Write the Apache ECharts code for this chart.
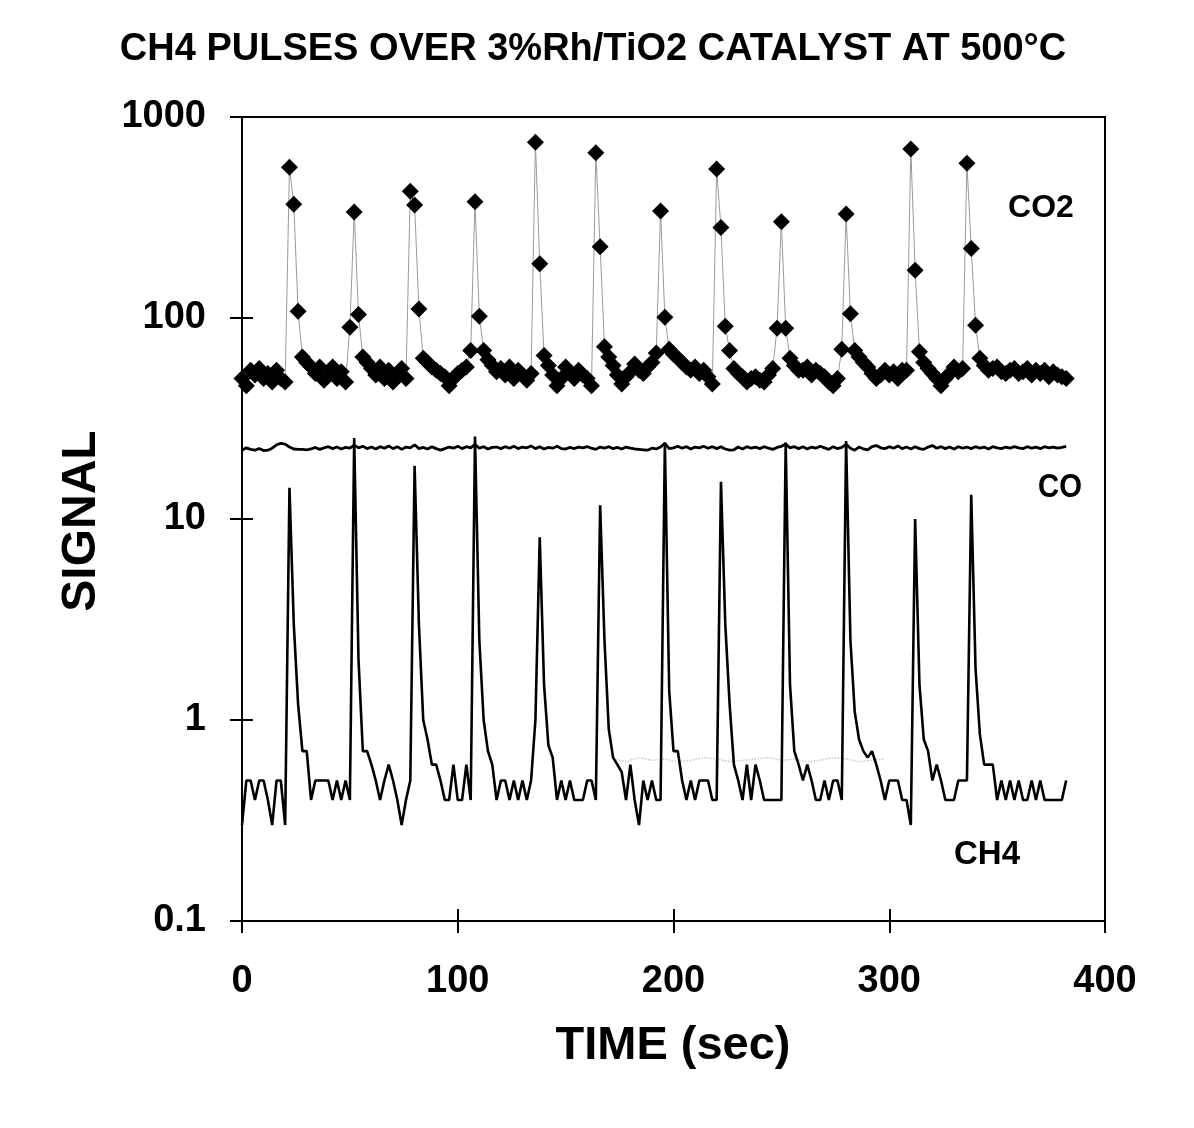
<!DOCTYPE html>
<html>
<head>
<meta charset="utf-8">
<script src="https://cdn.jsdelivr.net/npm/echarts@6/dist/echarts.min.js"></script>
<style>
html,body{margin:0;padding:0;background:#fff;}
#chart{width:1194px;height:1128px;}
</style>
</head>
<body>
<div id="chart"></div>
<script>
// ---- DATA ----
const timeSec = [
  0,2,4,6,8,10,12,14,16,18,
  20,22,24,26,28,30,32,34,36,38,
  40,42,44,46,48,50,52,54,56,58,
  60,62,64,66,68,70,72,74,76,78,
  80,82,84,86,88,90,92,94,96,98,
  100,102,104,106,108,110,112,114,116,118,
  120,122,124,126,128,130,132,134,136,138,
  140,142,144,146,148,150,152,154,156,158,
  160,162,164,166,168,170,172,174,176,178,
  180,182,184,186,188,190,192,194,196,198,
  200,202,204,206,208,210,212,214,216,218,
  220,222,224,226,228,230,232,234,236,238,
  240,242,244,246,248,250,252,254,256,258,
  260,262,264,266,268,270,272,274,276,278,
  280,282,284,286,288,290,292,294,296,298,
  300,302,304,306,308,310,312,314,316,318,
  320,322,324,326,328,330,332,334,336,338,
  340,342,344,346,348,350,352,354,356,358,
  360,362,364,366,368,370,372,374,376,378,
  380,382
];
const co2Signal = [
  50,46,55,52,56,50,53,48,55,50,
  48,562,368,108,64,60,57,53,57,49,
  52,57,50,54,48,90,337,104,64,60,
  56,52,57,50,55,48,53,56,50,427,
  365,111,63,60,57,55,53,51,46,50,
  53,55,57,69,379,102,69,62,58,54,
  56,52,57,50,55,52,49,53,748,186,
  65,58,52,46,50,57,53,50,55,52,
  50,46,664,226,72,64,58,52,47,51,
  54,59,55,53,57,60,67,341,101,70,
  66,63,60,57,55,57,53,55,51,47,
  551,282,91,69,56,53,51,48,50,51,
  49,48,52,56,89,301,89,63,58,55,
  55,57,52,55,53,51,48,46,50,70,
  329,105,69,64,60,57,53,50,52,55,
  52,54,50,55,55,693,173,68,60,56,
  53,50,46,50,53,57,54,56,589,222,
  92,63,58,55,56,57,54,53,55,56,
  53,54,56,52,55,53,55,51,54,52,
  51,50
];
const coSignal = [
  22.0,22.6,22.2,22.0,22.4,21.9,22.0,22.5,23.4,23.8,
  23.6,22.8,22.3,22.2,22.2,22.1,22.3,22.7,22.2,22.6,
  22.9,22.4,22.8,22.3,22.7,22.5,23.3,22.6,23.0,22.4,
  22.8,22.3,22.9,22.5,23.1,22.4,22.9,22.2,22.8,22.6,
  23.4,22.4,22.7,22.3,22.9,22.4,22.0,22.4,22.8,22.5,
  23.0,22.4,22.9,22.6,23.5,22.5,22.9,22.3,22.7,22.8,
  22.4,22.9,22.5,23.0,22.4,22.8,22.6,23.1,22.4,22.9,
  22.3,22.7,22.5,23.0,22.4,22.3,22.7,22.4,22.8,22.6,
  22.9,22.5,22.2,22.8,22.5,22.9,22.4,22.7,22.3,22.8,
  22.5,22.3,22.2,22.1,22.0,22.5,22.3,22.8,23.8,22.4,
  22.6,23.0,22.5,22.9,22.3,22.8,22.6,23.0,22.5,22.9,
  22.4,22.9,22.3,22.0,22.1,22.8,22.3,22.9,22.5,22.8,
  22.4,22.9,22.5,22.2,22.7,23.0,23.6,22.6,22.9,22.4,
  22.9,22.3,22.8,22.5,23.0,22.6,22.2,22.9,22.4,22.7,
  23.5,22.5,22.0,22.8,22.3,22.1,22.9,23.2,22.6,22.4,
  22.9,22.5,23.1,22.4,22.8,22.3,22.9,22.4,22.2,22.8,
  23.2,22.5,22.9,22.4,22.8,22.3,22.9,22.5,22.8,22.4,
  22.9,22.5,22.8,22.3,22.9,22.6,22.4,22.8,22.5,22.9,
  22.6,22.4,22.9,22.5,22.8,22.4,22.9,22.6,22.8,22.5,
  22.7,23.0
];
const ch4Signal = [
  0.3,0.5,0.5,0.4,0.5,0.5,0.4,0.3,0.5,0.5,
  0.3,14.3,3.0,1.2,0.7,0.7,0.4,0.5,0.5,0.5,
  0.5,0.4,0.5,0.4,0.5,0.4,25.3,2.0,0.7,0.7,
  0.6,0.5,0.4,0.5,0.6,0.5,0.4,0.3,0.4,0.5,
  18.4,3.0,1.0,0.8,0.6,0.6,0.5,0.4,0.4,0.6,
  0.4,0.4,0.6,0.4,25.7,2.5,1.0,0.7,0.6,0.4,
  0.5,0.5,0.4,0.5,0.4,0.5,0.4,0.5,1.0,8.1,
  1.5,0.75,0.65,0.4,0.5,0.4,0.5,0.4,0.4,0.4,
  0.5,0.5,0.4,11.7,2.5,0.9,0.65,0.6,0.55,0.4,
  0.6,0.4,0.3,0.5,0.4,0.5,0.4,0.4,24,1.4,
  0.7,0.7,0.5,0.4,0.5,0.4,0.5,0.5,0.5,0.4,
  0.4,15.3,3.0,1.2,0.6,0.5,0.4,0.6,0.4,0.6,
  0.5,0.4,0.4,0.4,0.4,0.4,24,1.5,0.7,0.6,
  0.5,0.6,0.5,0.4,0.4,0.5,0.4,0.5,0.5,0.4,
  24.4,2.5,1.1,0.8,0.7,0.65,0.7,0.6,0.5,0.4,
  0.5,0.5,0.5,0.4,0.4,0.3,10,1.5,0.8,0.7,
  0.5,0.6,0.5,0.4,0.4,0.4,0.5,0.5,0.5,13.2,
  1.8,0.85,0.6,0.6,0.6,0.4,0.5,0.4,0.5,0.4,
  0.5,0.4,0.4,0.5,0.4,0.5,0.4,0.4,0.4,0.4,
  0.4,0.5
];
// faint dotted trace near CH4 baseline
const faintTime = [172,178,184,190,196,202,208,214,220,226,232,238,244,250,256,262,268,274,280,286,292,298];
const faintSignal = [0.64,0.62,0.65,0.63,0.64,0.62,0.63,0.65,0.64,0.62,0.63,0.64,0.65,0.63,0.64,0.62,0.63,0.65,0.64,0.62,0.63,0.64];

const xTicks = [0,100,200,300,400];
const yTicks = [0.1,1,10,100,1000];

const titleText = 'CH4 PULSES OVER 3%Rh/TiO2 CATALYST AT 500°C';
const xTitle = 'TIME (sec)';
const yTitle = 'SIGNAL';
const seriesNames = ['CO2','CO','CH4'];

// ---- CHART ----
const pairs = (xs, ys) => xs.map((x, i) => [x, ys[i]]);
const FONT = '"Liberation Sans", Arial, sans-serif';
const chart = echarts.init(document.getElementById('chart'), null, {renderer: 'canvas'});

const option = {
  backgroundColor: '#ffffff',
  animation: false,
  grid: {left: 242, right: 89, top: 117, bottom: 207, show: true, borderColor: '#000', borderWidth: 2, backgroundColor: 'transparent'},
  xAxis: [
    {
      type: 'value', min: xTicks[0], max: xTicks[xTicks.length - 1], interval: 100,
      axisLine: {show: true, lineStyle: {color: '#000', width: 2}},
      axisTick: {show: true, inside: false, length: 12, lineStyle: {color: '#000', width: 2}},
      axisLabel: {show: true, margin: 42, color: '#000', fontFamily: FONT, fontWeight: 'bold', fontSize: 38},
      splitLine: {show: false}
    },
    {
      type: 'value', min: xTicks[0], max: xTicks[xTicks.length - 1], interval: 100, position: 'bottom',
      axisLine: {show: false},
      axisTick: {show: true, inside: true, length: 12, lineStyle: {color: '#000', width: 2}},
      axisLabel: {show: false}, splitLine: {show: false}
    }
  ],
  yAxis: [
    {
      type: 'log', logBase: 10, min: yTicks[0], max: yTicks[yTicks.length - 1],
      axisLine: {show: true, lineStyle: {color: '#000', width: 2}},
      axisTick: {show: true, inside: false, length: 12, lineStyle: {color: '#000', width: 2}},
      axisLabel: {show: true, margin: 36, color: '#000', fontFamily: FONT, fontWeight: 'bold', fontSize: 38,
        formatter: v => String(+v.toPrecision(6))},
      splitLine: {show: false}
    },
    {
      type: 'log', logBase: 10, min: yTicks[0], max: yTicks[yTicks.length - 1], position: 'left',
      axisLine: {show: false},
      axisTick: {show: true, inside: true, length: 11, lineStyle: {color: '#000', width: 2}},
      axisLabel: {show: false}, splitLine: {show: false}
    }
  ],
  series: [
    {
      name: 'faint', type: 'line', data: pairs(faintTime, faintSignal), showSymbol: false, silent: true,
      lineStyle: {color: '#c8c8c8', width: 1.5, type: 'dotted'}, z: 1
    },
    {
      name: seriesNames[2], type: 'line', data: pairs(timeSec, ch4Signal), showSymbol: false,
      lineStyle: {color: '#000', width: 2.6}, z: 2
    },
    {
      name: seriesNames[1], type: 'line', data: pairs(timeSec, coSignal), showSymbol: false,
      lineStyle: {color: '#000', width: 2.8}, z: 3
    },
    {
      name: seriesNames[0], type: 'line', data: pairs(timeSec, co2Signal),
      symbol: 'diamond', symbolSize: 17, itemStyle: {color: '#000'},
      lineStyle: {color: '#9a9a9a', width: 1}, z: 4
    }
  ],
  graphic: [
    {type: 'text', x: 593, y: 50, style: {text: titleText, fill: '#000', font: 'bold 38px ' + FONT, textAlign: 'center', textVerticalAlign: 'middle'}},
    {type: 'text', x: 82, y: 521, rotation: Math.PI / 2, style: {text: yTitle, fill: '#000', font: 'bold 48px ' + FONT, textAlign: 'center', textVerticalAlign: 'middle'}},
    {type: 'text', x: 673, y: 1046, style: {text: xTitle, fill: '#000', font: 'bold 47px ' + FONT, textAlign: 'center', textVerticalAlign: 'middle'}},
    {type: 'text', x: 1041, y: 208, style: {text: seriesNames[0], fill: '#000', font: 'bold 32px ' + FONT, textAlign: 'center', textVerticalAlign: 'middle'}},
    {type: 'text', x: 1060, y: 488, scaleX: 0.86, style: {text: seriesNames[1], fill: '#000', font: 'bold 34px ' + FONT, textAlign: 'center', textVerticalAlign: 'middle'}},
    {type: 'text', x: 987, y: 855, style: {text: seriesNames[2], fill: '#000', font: 'bold 33px ' + FONT, textAlign: 'center', textVerticalAlign: 'middle'}}
  ]
};
chart.setOption(option);
</script>
</body>
</html>
